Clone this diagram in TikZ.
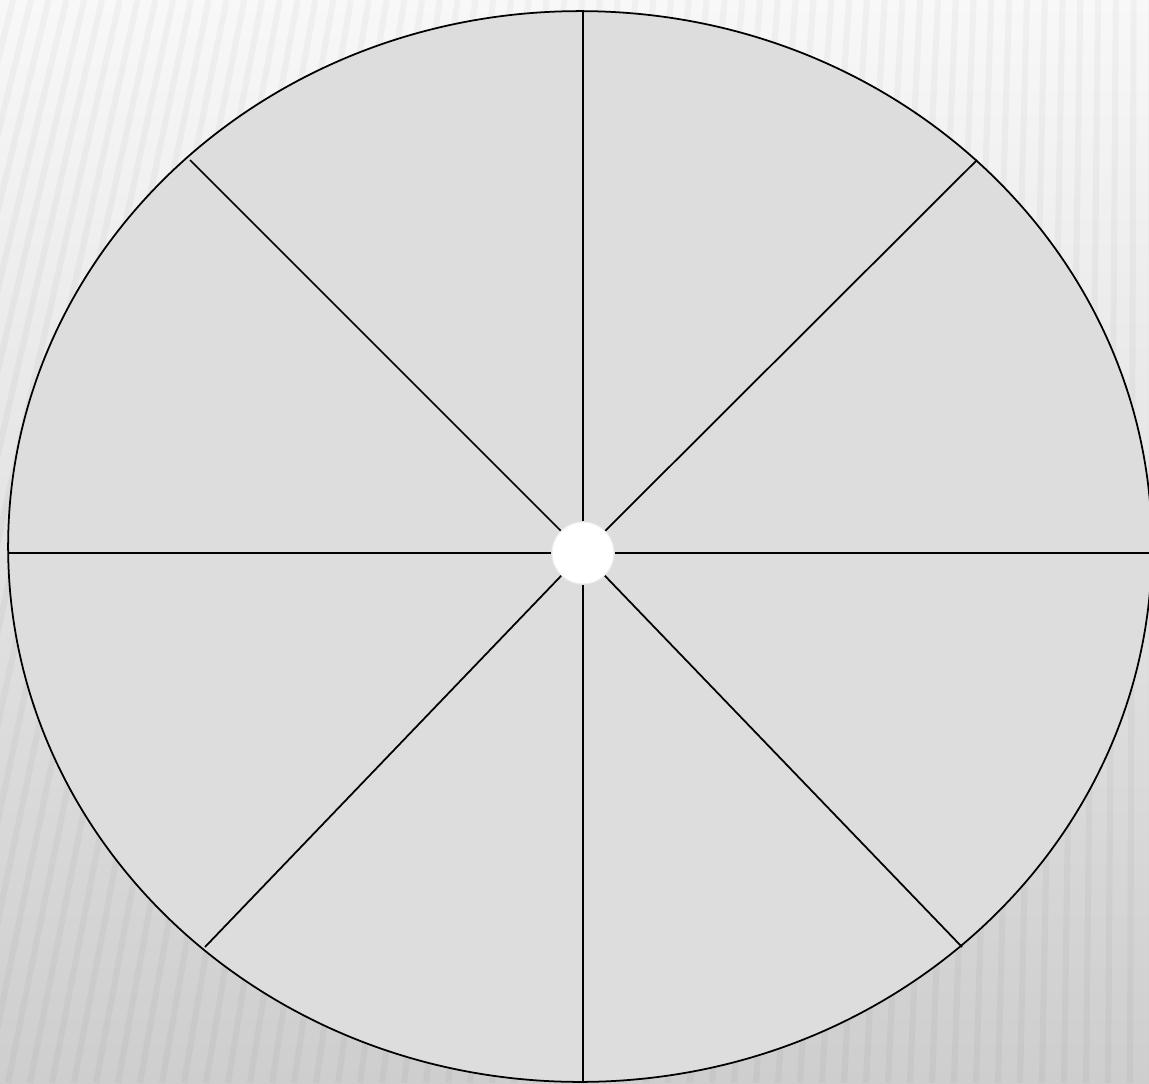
\documentclass[tikz,border=0pt]{standalone}
\usetikzlibrary{positioning,calc}
\definecolor{disc}{HTML}{DDDDDD}
\definecolor{paper}{HTML}{F8F8F8}
\definecolor{floor}{HTML}{CECECE}

\begin{document}
\begin{tikzpicture}[x=0.02cm,y=-0.02cm,
  rim/.style={draw=black,line width=1pt,fill=disc},
  spoke/.style={black,line width=1pt},
  hubdot/.style={circle,fill=white,draw=black!7,line width=0.6pt,
    minimum size=1.24cm,inner sep=0pt},
  stripe/.style={line width=3.5pt,black,opacity=0.03}]
\useasboundingbox (0,0) rectangle (1149,1083);
% backdrop
\shade[top color=paper,bottom color=floor] (0,0) rectangle (1149,1083);
\foreach \x in {-300,-278,...,1160}
  \draw[stripe] (\x,1083) -- ({\x+220*(1-\x/1149)},0);
% wheel
\draw[rim] (580,546.5) ellipse [x radius=11.44cm,y radius=10.71cm];
\coordinate (n) at (583,11);
\coordinate (ne) at (977,160);
\coordinate (e) at (1155,553);
\coordinate (se) at (962,947);
\coordinate (s) at (583,1083);
\coordinate (sw) at (205,947);
\coordinate (w) at (8.5,553);
\coordinate (nw) at (190,160);
\node[hubdot] (hub) at (583,553) {};
\foreach \t in {n,ne,e,se,s,sw,w,nw}
  \draw[spoke] (hub) -- (\t);
\end{tikzpicture}
\end{document}
